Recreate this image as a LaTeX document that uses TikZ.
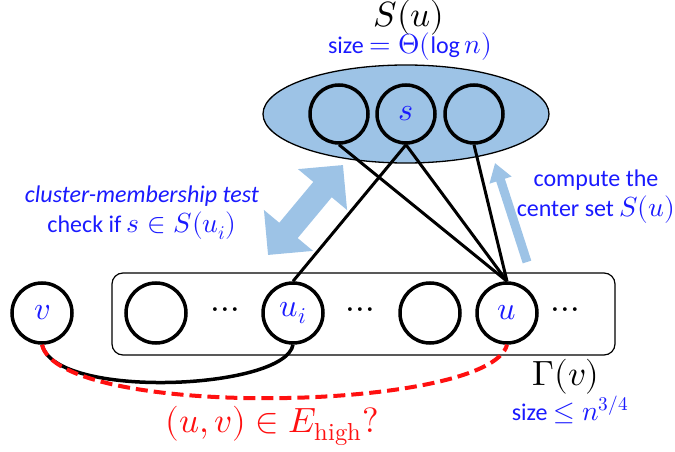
\documentclass[tikz,border=0pt]{standalone}
\usepackage{amsmath}
\usepackage{fontspec}
\usepackage{unicode-math}
\setmainfont{Carlito}
\setmathfont{Latin Modern Math}[Scale=1.15]
\usepackage{xcolor}
\usetikzlibrary{arrows.meta,positioning,calc,shapes.geometric}
\definecolor{setBlue}{HTML}{9DC3E6}
\definecolor{labelBlue}{HTML}{1A1AFF}
\definecolor{queryRed}{HTML}{FF1010}

\begin{document}
\begin{tikzpicture}[
    x=1pt,y=-1pt,
    every node/.style={font=\fontsize{24}{30}\selectfont},
    vertex/.style={circle,draw=black,line width=3.5pt,minimum size=60pt,inner sep=0pt,text=labelBlue,font=\fontsize{28}{30}\selectfont},
    member/.style={vertex,minimum size=58pt},
    link/.style={black,line width=3pt},
    fatarrow/.style={setBlue,line width=24pt,{Triangle[width=62pt,length=32pt]}-{Triangle[width=62pt,length=32pt]}},
    slimarrow/.style={setBlue,line width=9pt,-{Triangle[width=22pt,length=18pt]}},
    bigmath/.style={font=\fontsize{30.5}{32}\selectfont},
    gap/.style={font=\fontsize{31}{32}\selectfont}
  ]
  \useasboundingbox (0,0) rectangle (675,452);
  %% Center set S(u)
  \node[ellipse,draw=black,line width=1.3pt,fill=setBlue,minimum width=286pt,minimum height=98pt] (Su) at (406,114) {};
  \node[member] (s1) at (339,114) {};
  \node[member] (s)  at (406,114) {$s$};
  \node[member] (s3) at (474,114) {};
  \node[bigmath] (Sulbl) at (409,18) {$S(u)$};
  \node[text=labelBlue] (Susize) at (410,47) {size $=\Theta(\log n)$};
  %% Neighbourhood Gamma(v)
  \node[draw=black,line width=1.2pt,rounded corners=11pt,minimum width=503pt,minimum height=82pt] (nbr) at (363.5,314) {};
  \node[vertex] (v)  at (42,313)  {$v$};
  \node[vertex] (n1) at (156,313) {};
  \node[gap] (d1) at (225,313) {$\cdots$};
  \node[vertex] (ui) at (293,313) {$u_i$};
  \node[gap] (d2) at (360,313) {$\cdots$};
  \node[vertex] (n4) at (430,313) {};
  \node[vertex] (u)  at (507,313) {$u$};
  \node[gap] (d3) at (565,313) {$\cdots$};
  \node[bigmath] (Gam) at (566,377) {$\Gamma(v)$};
  \node[text=labelBlue] (Gamsize) at (570,410) {size $\le n^{3/4}$};
  %% Edges between the two sets
  \draw[link] (s1.south) -- (u.north);
  \draw[link] (s.south) -- (ui.north);
  \draw[link] (s.south) -- (u.north);
  \draw[link] (s3.south) -- (u.north);
  %% Path through u_i and the queried edge
  \draw[link,line width=3.5pt] (v.south) .. controls (55,400) and (285,390) .. (ui.south);
  \draw[queryRed,line width=4pt,dash pattern=on 12pt off 6pt] (v.south) .. controls (60,420) and (490,412) .. (u.south);
  \node[text=queryRed,bigmath] (query) at (272,426) {$(u,v)\in E_{\symup{high}}?$};
  %% Block arrows
  \coordinate (testLow) at (268,255);
  \coordinate (testHigh) at (343,165);
  \draw[fatarrow] (testLow) -- (testHigh);
  \coordinate (compTail) at (527,262);
  \coordinate (compTip) at (495,163);
  \draw[slimarrow] (compTail) -- (compTip);
  \node[text=labelBlue,align=center] (testlbl) at (142,213) {\textit{cluster-membership test}\\check if $s\in S(u_i)$};
  \node[text=labelBlue,align=center] (complbl) at (596,197) {compute the\\center set $S(u)$};
\end{tikzpicture}
\end{document}
